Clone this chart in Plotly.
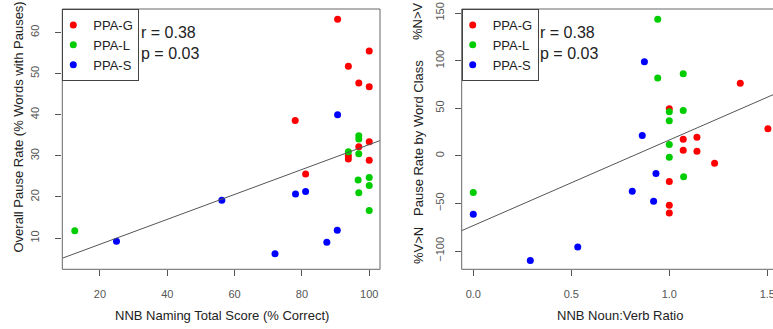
import plotly.graph_objects as go

W, H = 773, 329

# ---------------- Data ----------------
groups = ["PPA-G", "PPA-L", "PPA-S"]
group_colors = ["#FF0000", "#00CD00", "#0000FF"]

# Left panel: NNB Naming Total Score (% Correct) vs Overall Pause Rate
naming_G = [90.6, 100, 93.8, 96.9, 100, 78.0, 96.9, 100, 93.8, 93.8, 100, 81.1]
pause_G = [63.2, 55.5, 51.8, 47.7, 46.8, 38.6, 32.2, 33.4, 30.0, 29.2, 28.9, 25.6]
naming_L = [96.9, 96.9, 93.8, 96.9, 96.7, 100, 100, 96.9, 100, 12.5]
pause_L = [34.9, 34.1, 31.0, 30.5, 24.1, 24.7, 22.8, 21.0, 16.7, 11.8]
naming_S = [90.6, 78.1, 81.1, 90.5, 87.4, 72.0, 56.2, 24.9]
pause_S = [40.0, 20.7, 21.3, 11.9, 9.0, 6.2, 19.2, 9.2]

# Right panel: NNB Noun:Verb Ratio vs Pause Rate by Word Class
ratio_G = [1.362, 1.0, 1.503, 1.071, 1.141, 1.071, 1.141, 1.231, 1.0, 1.0, 1.0]
wc_G = [76.1, 49.5, 28.4, 17.5, 19.6, 5.9, 4.8, -7.8, -27.1, -52.0, -60.0]
ratio_L = [0.941, 0.941, 1.071, 1.0, 1.071, 1.0, 1.0, 1.0, 1.073, 0.0]
wc_L = [143.5, 81.7, 86.3, 46.3, 47.7, 36.8, 11.9, -1.5, -22.1, -38.6]
ratio_S = [0.873, 0.862, 0.932, 0.811, 0.920, 0.0, 0.533, 0.291]
wc_S = [98.9, 21.4, -18.6, -37.3, -47.8, -61.5, -95.8, -109.9]

# Regression lines (intercept, slope)
fit_left = (2.43, 0.303)
fit_right = (-73.3, 89.9)

stats_text = ["r = 0.38", "p = 0.03"]

x_ticks_left = [20, 40, 60, 80, 100]
y_ticks_left = [10, 20, 30, 40, 50, 60]
x_ticks_right = [0.0, 0.5, 1.0, 1.5]
x_ticklabels_right = ["0.0", "0.5", "1.0", "1.5"]
y_ticks_right = [-100, -50, 0, 50, 100, 150]

# ---------------- Layout geometry ----------------
def px_x(p):
    return p / W

def px_y(p):
    return 1 - p / H

xr_left = [8.8, 103.2]
yr_left = [2.4, 65.7]
xr_right = [-0.059, 1.529]
yr_right = [-119.2, 154.2]

dom_x_left = [px_x(62.3), px_x(380)]
dom_x_right = [px_x(461.7), 1.0]
dom_y = [px_y(269.3), px_y(9)]

FONT = "Liberation Sans, Arial, sans-serif"
TICKC = "#555555"
TXTC = "#222222"

fig = go.Figure()

left_sets = [(naming_G, pause_G), (naming_L, pause_L), (naming_S, pause_S)]
right_sets = [(ratio_G, wc_G), (ratio_L, wc_L), (ratio_S, wc_S)]

for i, (xs, ys) in enumerate(left_sets):
    fig.add_trace(go.Scatter(x=xs, y=ys, mode="markers", name=groups[i],
                             marker=dict(color=group_colors[i], size=7, line=dict(width=0)),
                             xaxis="x", yaxis="y", legend="legend"))
for i, (xs, ys) in enumerate(right_sets):
    fig.add_trace(go.Scatter(x=xs, y=ys, mode="markers", name=groups[i],
                             marker=dict(color=group_colors[i], size=7, line=dict(width=0)),
                             xaxis="x2", yaxis="y2", legend="legend2"))

# regression lines across the axis ranges
a, b = fit_left
fig.add_trace(go.Scatter(x=xr_left, y=[a + b * v for v in xr_left], mode="lines",
                         line=dict(color="#555555", width=1), showlegend=False,
                         xaxis="x", yaxis="y", hoverinfo="skip"))
a, b = fit_right
fig.add_trace(go.Scatter(x=xr_right, y=[a + b * v for v in xr_right], mode="lines",
                         line=dict(color="#555555", width=1), showlegend=False,
                         xaxis="x2", yaxis="y2", hoverinfo="skip"))

axis_common = dict(showgrid=False, zeroline=False, showline=False, ticks="outside",
                   ticklen=6, tickwidth=1, tickcolor=TICKC, automargin=False,
                   ticklabeloverflow="allow",
                   tickfont=dict(family=FONT, size=11, color=TICKC))

fig.update_layout(
    width=W, height=H,
    margin=dict(l=0, r=0, t=0, b=0),
    paper_bgcolor="white", plot_bgcolor="white",
    font=dict(family=FONT, color=TXTC),
    xaxis=dict(domain=dom_x_left, range=xr_left, tickvals=x_ticks_left,
               anchor="y", ticklabelstandoff=8, **axis_common),
    yaxis=dict(domain=dom_y, range=yr_left, tickvals=y_ticks_left,
               anchor="x", tickangle=-90, ticklabelstandoff=12, **axis_common),
    xaxis2=dict(domain=dom_x_right, range=xr_right, tickvals=x_ticks_right,
                ticktext=x_ticklabels_right, anchor="y2", ticklabelstandoff=8, **axis_common),
    yaxis2=dict(domain=dom_y, range=yr_right, tickvals=y_ticks_right,
                anchor="x2", tickangle=-90, ticklabelstandoff=6, **axis_common),
    legend=dict(x=dom_x_left[0], y=dom_y[1], xanchor="left", yanchor="top",
                bgcolor="white", bordercolor="#444444", borderwidth=1,
                font=dict(family=FONT, size=13, color=TXTC), indentation=-10,
                itemwidth=30),
    legend2=dict(x=dom_x_right[0], y=dom_y[1], xanchor="left", yanchor="top",
                 bgcolor="white", bordercolor="#444444", borderwidth=1,
                 font=dict(family=FONT, size=13, color=TXTC), indentation=-10,
                 itemwidth=30),
)

# frames
fig.add_shape(type="rect", xref="paper", yref="paper",
              x0=dom_x_left[0], x1=dom_x_left[1], y0=dom_y[0], y1=dom_y[1],
              line=dict(color="#666666", width=1), layer="above")
fig.add_shape(type="rect", xref="paper", yref="paper",
              x0=dom_x_right[0], x1=1.02, y0=dom_y[0], y1=dom_y[1],
              line=dict(color="#666666", width=1), layer="above")

# statistics text
for xpx in [139, 538.3]:
    for j, t in enumerate(stats_text):
        fig.add_annotation(text=t, xref="paper", yref="paper", x=px_x(xpx),
                           y=px_y(32 + 21 * j), xanchor="left", yanchor="middle",
                           showarrow=False, font=dict(family=FONT, size=16, color=TXTC))

# axis titles
fig.add_annotation(text="NNB Naming Total Score (% Correct)", xref="paper", yref="paper",
                   x=px_x(221.5), y=px_y(315), xanchor="center", yanchor="middle",
                   showarrow=False, font=dict(family=FONT, size=13, color=TXTC))
fig.add_annotation(text="NNB Noun:Verb Ratio", xref="paper", yref="paper",
                   x=px_x(620), y=px_y(315), xanchor="center", yanchor="middle",
                   showarrow=False, font=dict(family=FONT, size=13, color=TXTC))
fig.add_annotation(text="Overall Pause Rate (% Words with Pauses)", xref="paper", yref="paper",
                   x=px_x(18), y=px_y(127.5), xanchor="center", yanchor="middle",
                   textangle=-90, showarrow=False, font=dict(family=FONT, size=13, color=TXTC))
for txt, ypx in [("%N>V", 21), ("Pause Rate by Word Class", 138), ("%V>N", 246)]:
    fig.add_annotation(text=txt, xref="paper", yref="paper",
                       x=px_x(418), y=px_y(ypx), xanchor="center", yanchor="middle",
                       textangle=-90, showarrow=False, font=dict(family=FONT, size=13, color=TXTC))

fig.write_html("out.html", config={"displayModeBar": False},
               post_script="document.body.style.margin='0';document.body.style.overflow='hidden';")
